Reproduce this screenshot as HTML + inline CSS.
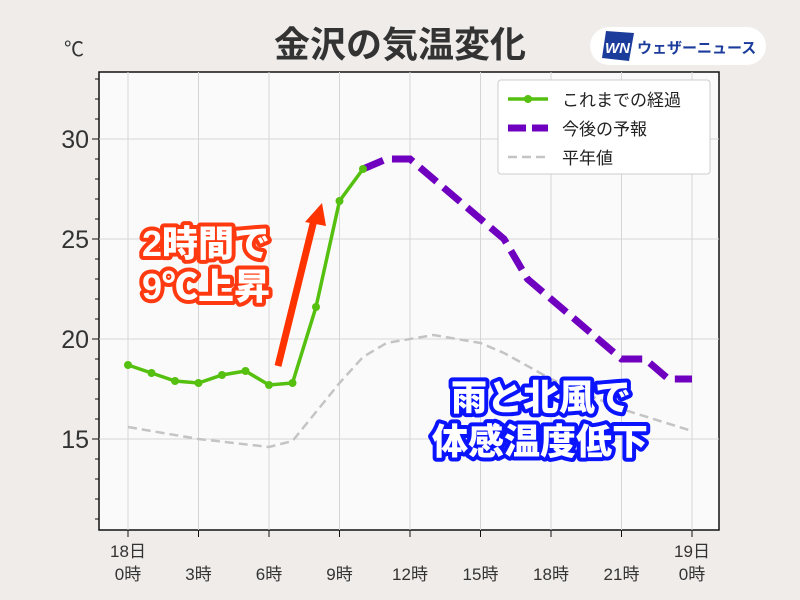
<!DOCTYPE html>
<html><head><meta charset="utf-8"><style>
body{margin:0;background:#efecea;}
svg{display:block;font-family:"Liberation Sans","Noto Sans CJK JP",sans-serif;}
</style></head><body>
<svg width="800" height="600" viewBox="0 0 800 600">
<rect width="800" height="600" fill="#efecea"/>
<text x="400" y="57" text-anchor="middle" font-size="36" font-weight="bold" fill="#333">金沢の気温変化</text>
<text x="64" y="56" font-size="20" fill="#333">℃</text>
<!-- logo -->
<rect x="590" y="27" width="176" height="38" rx="19" fill="#fff"/>
<polygon points="606,31 634,33 629,61 602,58" fill="#1c3c9c"/>
<text x="605" y="53" font-size="15" font-weight="bold" font-style="italic" fill="#fff">WN</text>
<text x="637" y="53" font-size="15" font-weight="bold" fill="#1c3c9c">ウェザーニュース</text>
<!-- plot area -->
<rect x="99" y="72" width="620" height="458" fill="#fbfafa" stroke="#111" stroke-width="1.5"/>
<g stroke="#d6d6d6" stroke-width="1">
<line x1="128" y1="72" x2="128" y2="530"/><line x1="198.5" y1="72" x2="198.5" y2="530"/><line x1="269" y1="72" x2="269" y2="530"/><line x1="339.5" y1="72" x2="339.5" y2="530"/><line x1="410" y1="72" x2="410" y2="530"/><line x1="480.5" y1="72" x2="480.5" y2="530"/><line x1="551" y1="72" x2="551" y2="530"/><line x1="621.5" y1="72" x2="621.5" y2="530"/><line x1="692" y1="72" x2="692" y2="530"/>
<line x1="99" y1="139" x2="719" y2="139"/><line x1="99" y1="239" x2="719" y2="239"/><line x1="99" y1="339" x2="719" y2="339"/><line x1="99" y1="439" x2="719" y2="439"/>
</g>
<g stroke="#111" stroke-width="1">
<line x1="92" y1="139" x2="99" y2="139"/><line x1="92" y1="239" x2="99" y2="239"/><line x1="92" y1="339" x2="99" y2="339"/><line x1="92" y1="439" x2="99" y2="439"/>
<line x1="95" y1="79" x2="99" y2="79"/><line x1="95" y1="99" x2="99" y2="99"/><line x1="95" y1="119" x2="99" y2="119"/><line x1="95" y1="159" x2="99" y2="159"/><line x1="95" y1="179" x2="99" y2="179"/><line x1="95" y1="199" x2="99" y2="199"/><line x1="95" y1="219" x2="99" y2="219"/><line x1="95" y1="259" x2="99" y2="259"/><line x1="95" y1="279" x2="99" y2="279"/><line x1="95" y1="299" x2="99" y2="299"/><line x1="95" y1="319" x2="99" y2="319"/><line x1="95" y1="359" x2="99" y2="359"/><line x1="95" y1="379" x2="99" y2="379"/><line x1="95" y1="399" x2="99" y2="399"/><line x1="95" y1="419" x2="99" y2="419"/><line x1="95" y1="459" x2="99" y2="459"/><line x1="95" y1="479" x2="99" y2="479"/><line x1="95" y1="499" x2="99" y2="499"/><line x1="95" y1="519" x2="99" y2="519"/>
<line x1="128" y1="530" x2="128" y2="537"/><line x1="198.5" y1="530" x2="198.5" y2="537"/><line x1="269" y1="530" x2="269" y2="537"/><line x1="339.5" y1="530" x2="339.5" y2="537"/><line x1="410" y1="530" x2="410" y2="537"/><line x1="480.5" y1="530" x2="480.5" y2="537"/><line x1="551" y1="530" x2="551" y2="537"/><line x1="621.5" y1="530" x2="621.5" y2="537"/><line x1="692" y1="530" x2="692" y2="537"/>
</g>
<g font-size="25" fill="#333" text-anchor="end">
<text x="89" y="148">30</text><text x="89" y="248">25</text><text x="89" y="348">20</text><text x="89" y="448">15</text>
</g>
<g font-size="17" fill="#333" text-anchor="middle">
<text x="128" y="557">18日</text><text x="128" y="580">0時</text>
<text x="198.5" y="580">3時</text><text x="269" y="580">6時</text><text x="339.5" y="580">9時</text><text x="410" y="580">12時</text><text x="480.5" y="580">15時</text><text x="551" y="580">18時</text><text x="621.5" y="580">21時</text>
<text x="692" y="557">19日</text><text x="692" y="580">0時</text>
</g>
<!-- normal -->
<polyline fill="none" stroke="#c4c4c4" stroke-width="2.5" stroke-dasharray="9,5" points="128,427 198.5,439 269,447 292.5,441 339.5,383 363,357 386.5,343 433.5,335 480.5,343 504,353 551,379 621.5,409 692,431"/>
<!-- forecast -->
<polyline fill="none" stroke="#7000c0" stroke-width="7" stroke-dasharray="22,9" points="363,169 386.5,159 410,159 504,239 527.5,279 621.5,359 645,359 668.5,379 692,379"/>
<!-- observed -->
<polyline fill="none" stroke="#55c010" stroke-width="3.5" points="128,365 151.5,373 175,381 198.5,383 222,375 245.5,371 269,385 292.5,383 316,307 339.5,201 363,169"/>
<g fill="#55c010">
<circle cx="128" cy="365" r="4"/><circle cx="151.5" cy="373" r="4"/><circle cx="175" cy="381" r="4"/><circle cx="198.5" cy="383" r="4"/><circle cx="222" cy="375" r="4"/><circle cx="245.5" cy="371" r="4"/><circle cx="269" cy="385" r="4"/><circle cx="292.5" cy="383" r="4"/><circle cx="316" cy="307" r="4"/><circle cx="339.5" cy="201" r="4"/><circle cx="363" cy="169" r="4"/>
</g>
<!-- legend -->
<rect x="498" y="80" width="212" height="94" rx="3" fill="#fff" stroke="#ccc"/>
<line x1="508" y1="99" x2="548" y2="99" stroke="#55c010" stroke-width="3.5"/><circle cx="528" cy="99" r="4" fill="#55c010"/>
<text x="562" y="106" font-size="17" fill="#222">これまでの経過</text>
<line x1="508" y1="128" x2="548" y2="128" stroke="#7000c0" stroke-width="7" stroke-dasharray="18,6"/>
<text x="562" y="135" font-size="17" fill="#222">今後の予報</text>
<line x1="508" y1="157" x2="548" y2="157" stroke="#c4c4c4" stroke-width="2.5" stroke-dasharray="9,5"/>
<text x="562" y="164" font-size="17" fill="#222">平年値</text>
<!-- arrow -->
<line x1="278" y1="366" x2="314" y2="220" stroke="#ff3300" stroke-width="7"/>
<polygon points="322,203 305,222 326,226" fill="#ff3300"/>
<!-- annotations -->
<g font-size="36" font-weight="900" fill="#fff" stroke="#ff3a10" stroke-width="8" paint-order="stroke" stroke-linejoin="round" text-anchor="middle">
<text x="206" y="256">2時間で</text><text x="206" y="299">9℃上昇</text>
</g>
<g font-size="36" font-weight="900" fill="#fff" stroke="#0a14ff" stroke-width="8" paint-order="stroke" stroke-linejoin="round" text-anchor="middle">
<text x="541" y="410">雨と北風で</text><text x="540" y="454">体感温度低下</text>
</g>
</svg>
</body></html>
